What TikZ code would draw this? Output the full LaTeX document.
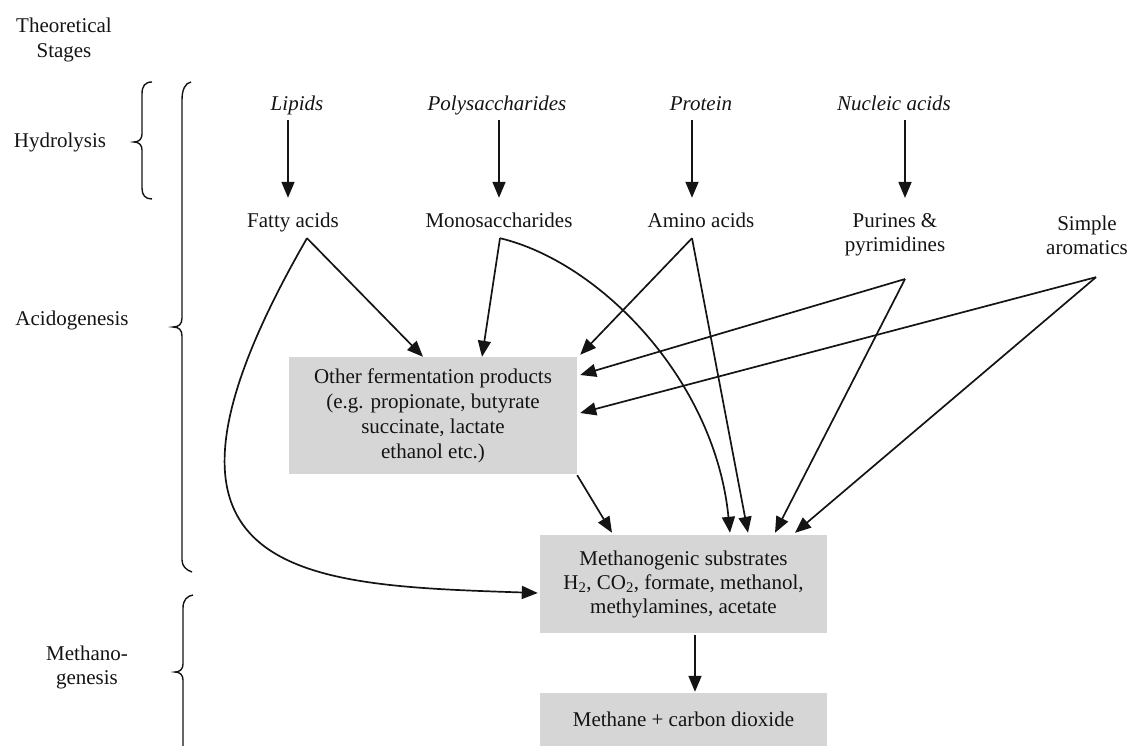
\documentclass[tikz,border=0pt]{standalone}
\usepackage{fontspec}
\setmainfont{Liberation Serif}
\usetikzlibrary{arrows.meta}
\definecolor{boxgray}{RGB}{214,214,214}
\definecolor{inkc}{RGB}{20,20,20}
\begin{document}
\begin{tikzpicture}[x=1pt,y=-1pt,
  lab/.style={font=\fontsize{21}{24}\selectfont, inner sep=0pt, text height=15pt, text depth=4pt, text=inkc},
  ilab/.style={lab, font=\fontsize{21}{24}\selectfont\itshape},
  mlab/.style={font=\fontsize{21}{24}\selectfont, inner sep=0pt, align=center, text=inkc},
  gbox/.style={fill=boxgray, inner sep=0pt, align=center, text=inkc},
  arr/.style={line width=1.7pt, draw=inkc, -{Triangle[length=16pt,width=13pt]}},
  bracel/.style={line width=1.4pt, draw=inkc},
]
\useasboundingbox (0,0) rectangle (1135,746);

% stage labels
\node[mlab, font=\fontsize{21}{25}\selectfont] (theo) at (64,40) {Theoretical\\Stages};
\node[lab] (hyd) at (60,142.5) {Hydrolysis};
\node[lab] (acid) at (72,319.5) {Acidogenesis};
\node[mlab] (methg) at (87,667) {Methano-\\genesis};

% braces
\draw[bracel] (152,82) .. controls (145,82) and (142,86) .. (142,94) -- (142,134)
  .. controls (142,139) and (139,142) .. (134,142)
  .. controls (139,142) and (142,145) .. (142,150) -- (142,188)
  .. controls (142,195) and (145,199) .. (152,199);
\draw[bracel] (191,82) .. controls (185,83) and (182,90) .. (182,100) -- (182,318)
  .. controls (182,324) and (179,327) .. (173,327)
  .. controls (179,327) and (182,330) .. (182,336) -- (182,560)
  .. controls (182,566) and (186,570) .. (192,572);
\draw[bracel] (193,595) .. controls (187,596) and (183,600) .. (183,608) -- (183,664)
  .. controls (183,669) and (180,672) .. (175,672)
  .. controls (180,672) and (183,675) .. (183,680) -- (183,746);

% polymers
\node[ilab] (lip) at (297,105) {Lipids};
\node[ilab] (poly) at (497,105) {Polysaccharides};
\node[ilab] (prot) at (701,105) {Protein};
\node[ilab] (nuc) at (894,105) {Nucleic acids};

% monomers
\node[lab] (fa) at (293,222) {Fatty acids};
\node[lab] (ms) at (499,222) {Monosaccharides};
\node[lab] (aa) at (701,222) {Amino acids};
\node[mlab] (pur) at (895,235.2) {Purines \&\\pyrimidines};
\node[mlab] (aro) at (1087,235.2) {Simple\\aromatics};

% boxes
\node[gbox, font=\fontsize{21}{25}\selectfont, minimum width=288pt, minimum height=117pt] (other) at (433,415.5)
  {Other fermentation products\\(e.g. propionate, butyrate\\succinate, lactate\\ethanol etc.)};
\node[gbox, font=\fontsize{21}{24}\selectfont, minimum width=287pt, minimum height=98pt] (meth) at (683.5,584)
  {Methanogenic substrates\\H\textsubscript{2}, CO\textsubscript{2}, formate, methanol,\\methylamines, acetate};
\node[gbox, font=\fontsize{21}{24}\selectfont, minimum width=287pt, minimum height=53pt] (methane) at (683.5,719.5)
  {Methane + carbon dioxide};

% origin points of the fan-out connectors
\coordinate (faO) at ([shift={(14,6.5)}]fa.south);
\coordinate (msO) at ([shift={(1,6.5)}]ms.south);
\coordinate (aaO) at ([shift={(-9,6.5)}]aa.south);
\coordinate (puO) at ([shift={(10,22.4)}]pur.south);
\coordinate (arO) at ([shift={(9,22.4)}]aro.south);

% hydrolysis arrows
\draw[arr] ([shift={(-9,5.5)}]lip.south) -- ([shift={(-5,-14.5)}]fa.north);
\draw[arr] ([shift={(2,5.5)}]poly.south) -- ([shift={(0,-14.5)}]ms.north);
\draw[arr] ([shift={(-9,5.5)}]prot.south) -- ([shift={(-9,-14.5)}]aa.north);
\draw[arr] ([shift={(11,5.5)}]nuc.south) -- ([shift={(10,-15.8)}]pur.north);

% acidogenesis arrows
\draw[arr] (faO) -- ([xshift=-10]other.north);
\draw[arr] (faO) .. controls (110,580) and (300,585) .. ([shift={(-2,9)}]meth.west);
\draw[arr] (msO) -- ([xshift=49]other.north);
\draw[arr] (msO) .. controls (600,262) and (715,380) .. ([shift={(46.5,-2)}]meth.north);
\draw[arr] (aaO) -- ([shift={(3,-2)}]other.north east);
\draw[arr] (aaO) -- ([shift={(64.5,-2)}]meth.north);
\draw[arr] (puO) -- ([shift={(3,-40.5)}]other.east);
\draw[arr] (puO) -- ([shift={(91.5,-2)}]meth.north);
\draw[arr] (arO) -- ([shift={(3,-2.5)}]other.east);
\draw[arr] (arO) -- ([shift={(111.5,-2)}]meth.north);
\draw[arr] ([shift={(0,1)}]other.south east) -- ([shift={(-71.5,-2)}]meth.north);

% methanogenesis
\draw[arr] ([shift={(11.5,2)}]meth.south) -- ([shift={(11.5,-1)}]methane.north);
\end{tikzpicture}
\end{document}
